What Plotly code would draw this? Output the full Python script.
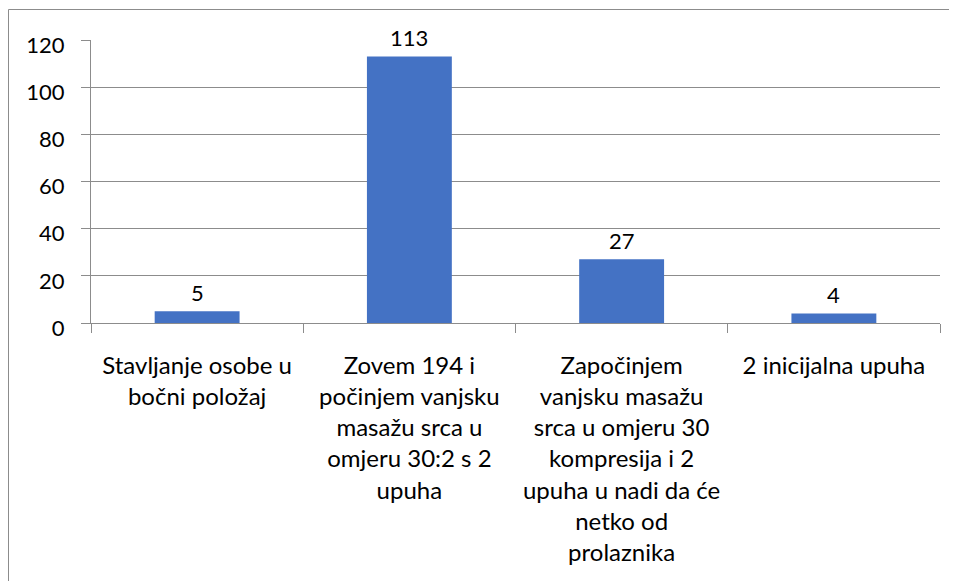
import plotly.graph_objects as go

categories = [
    "Stavljanje osobe u<br>bočni položaj",
    "Zovem 194 i<br>počinjem vanjsku<br>masažu srca u<br>omjeru 30:2 s 2<br>upuha",
    "Započinjem<br>vanjsku masažu<br>srca u omjeru 30<br>kompresija i 2<br>upuha u nadi da će<br>netko od<br>prolaznika",
    "2 inicijalna upuha",
]
values = [5, 113, 27, 4]
y_ticks = [0, 20, 40, 60, 80, 100, 120]

FONT = "Lato"
GRID = "#8c8c8c"
OFF = 8  # default page body margin

# figure size so that page fits window
W, H = 957 - OFF, 581 - OFF
# plot area in reference px: x 91..940, y 40..323
px0, px1, py0, py1 = 91 - OFF, 940 - OFF, 40 - OFF, 323 - OFF
pw, ph = px1 - px0, py1 - py0

fig = go.Figure(go.Bar(
    x=categories, y=values,
    marker=dict(color="#4472C4", line=dict(width=0)),
    width=0.4, hoverinfo="x+y",
))

for c, v in zip(categories, values):
    fig.add_annotation(
        x=c, y=v, text=str(v), showarrow=False,
        xanchor="center", yanchor="middle", yshift=19,
        font=dict(family=FONT, size=22, color="#000000"),
    )

fig.update_layout(
    width=W, height=H,
    margin=dict(l=px0, r=W - px1, t=py0, b=H - py1, autoexpand=False),
    paper_bgcolor="white", plot_bgcolor="white",
    font=dict(family=FONT, size=22, color="#000000"),
    showlegend=False,
    xaxis=dict(
        type="category", tickson="boundaries", ticks="outside", ticklen=9,
        tickcolor=GRID, showline=True, linecolor=GRID, linewidth=1,
        showgrid=False, tickfont=dict(family=FONT, size=24, color="#000000"),
        ticklabelstandoff=21, automargin=False,
    ),
    yaxis=dict(
        range=[0, 120], tickvals=y_ticks, ticks="outside", ticklen=9,
        tickcolor=GRID, showline=True, linecolor=GRID, linewidth=1,
        showgrid=True, gridcolor=GRID, gridwidth=1, zeroline=False,
        tickfont=dict(family=FONT, size=22, color="#000000"),
        ticklabelstandoff=12, ticklabelshift=5, automargin=False,
    ),
    shapes=[dict(
        type="rect", xref="paper", yref="paper",
        x0=(0.5 - px0) / pw, x1=(W + 10 - px0) / pw,
        y0=(py1 - 700) / ph, y1=(py1 - 1.5) / ph,
        line=dict(color=GRID, width=1), fillcolor="rgba(0,0,0,0)", layer="below",
    )],
)

fig.write_html("out.html")
